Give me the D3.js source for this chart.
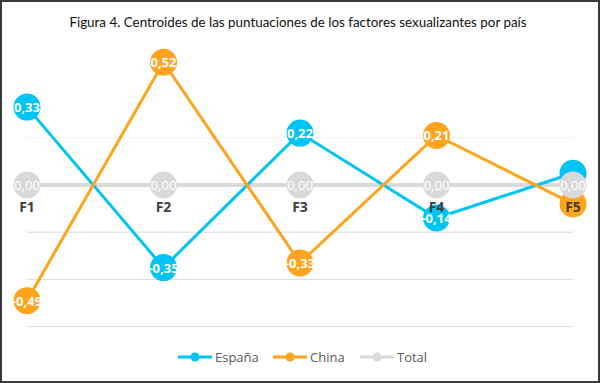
<!DOCTYPE html>
<html>
<head>
<meta charset="utf-8">
<script src="https://cdn.jsdelivr.net/npm/d3@7"></script>
<style>
  html, body { margin: 0; padding: 0; background: #fff; }
  svg { display: block; }
</style>
</head>
<body>
<div id="chart"></div>
<script>
const categories = ["F1", "F2", "F3", "F4", "F5"];
const espana = [0.33, -0.35, 0.22, -0.14, 0.05];
const china = [-0.49, 0.52, -0.33, 0.21, -0.08];
const total = [0, 0, 0, 0, 0];
const gridTicks = [-0.6, -0.4, -0.2, 0.2];
const seriesNames = ["España", "China", "Total"];

const width = 600, height = 383;

const series = [
  {name: seriesNames[0], values: espana, color: "#00c4f4", labelBold: true},
  {name: seriesNames[1], values: china, color: "#ffa41c", labelBold: true},
  {name: seriesNames[2], values: total, color: "#d9d9d9", labelBold: false}
];

const fmt = v => d3.format(".2f")(v).replace("−", "-").replace(".", ",");

let svg = d3.select("#chart") // main svg
  .append("svg")
  .attr("width", width)
  .attr("height", height)
  .attr("viewBox", [0, 0, width, height]);

// outer frame
svg.append("rect")
  .attr("x", 1).attr("y", 1)
  .attr("width", width - 2).attr("height", height - 2)
  .attr("fill", "#fff")
  .attr("stroke", "#3a3a3a")
  .attr("stroke-width", 2);

svg.append("text")
  .attr("x", 298).attr("y", 27)
  .attr("text-anchor", "middle")
  .attr("font-family", "Lato, sans-serif")
  .attr("font-size", 13.4)
  .attr("fill", "#111")
  .text("Figura 4. Centroides de las puntuaciones de los factores sexualizantes por país");

const x = d3.scalePoint()
  .domain(categories)
  .range([27, 573]);

const y = d3.scaleLinear()
  .domain([-0.6, 0.6])
  .range([326.6, 43.4]);

// gridlines
svg.append("g")
  .selectAll("line")
  .data(gridTicks)
  .join("line")
  .attr("x1", 27).attr("x2", 573)
  .attr("y1", d => y(d)).attr("y2", d => y(d))
  .attr("stroke", d => d > 0 ? "#f2f2f2" : "#d9d9d9")
  .attr("stroke-width", 1);

const line = d3.line()
  .x((d, i) => x(categories[i]))
  .y(d => y(d));

// lines: Total underneath, then España, China
const lineOrder = [series[2], series[0], series[1]];
svg.append("g")
  .selectAll("path")
  .data(lineOrder)
  .join("path")
  .attr("d", s => line(s.values))
  .attr("fill", "none")
  .attr("stroke", s => s.color)
  .attr("stroke-width", s => s.name === "Total" ? 4 : 3);

// markers
series.forEach(s => {
  svg.append("g")
    .selectAll("circle")
    .data(s.values)
    .join("circle")
    .attr("cx", (d, i) => x(categories[i]))
    .attr("cy", d => y(d))
    .attr("r", 13.5)
    .attr("fill", s.color);
});

// category labels under the zero line
svg.append("g")
  .selectAll("text")
  .data(categories)
  .join("text")
  .attr("x", d => x(d))
  .attr("y", y(0) + 27)
  .attr("text-anchor", "middle")
  .attr("font-family", "'Open Sans', sans-serif")
  .attr("font-size", 14)
  .attr("font-weight", "bold")
  .attr("fill", "#404040")
  .text(d => d);

// data labels (the F5 ones for España and China are hidden in the original)
series.forEach(s => {
  svg.append("g")
    .selectAll("text")
    .data(s.values.map((v, i) => ({v, i})).filter(d => s.name === "Total" || d.i < 4))
    .join("text")
    .attr("x", d => x(categories[d.i]))
    .attr("y", d => y(d.v) + 5)
    .attr("text-anchor", "middle")
    .attr("font-family", "'Open Sans', sans-serif")
    .attr("font-size", 13)
    .attr("font-weight", s.labelBold ? "bold" : "normal")
    .attr("fill", "#fff")
    .text(d => fmt(d.v));
});

// legend
const legendX = [178, 273, 360];
let legend = svg.append("g")
  .selectAll("g")
  .data(series)
  .join("g")
  .attr("transform", (d, i) => `translate(${legendX[i]}, 357)`);

legend.append("line")
  .attr("x1", 0).attr("x2", 34)
  .attr("stroke", d => d.color)
  .attr("stroke-width", 3);

legend.append("circle")
  .attr("cx", 17)
  .attr("r", 4.5)
  .attr("fill", d => d.color);

legend.append("text")
  .attr("x", 37)
  .attr("y", 5)
  .attr("font-family", "'Open Sans', sans-serif")
  .attr("font-size", 13)
  .attr("fill", "#595959")
  .text(d => d.name);
</script>
</body>
</html>
